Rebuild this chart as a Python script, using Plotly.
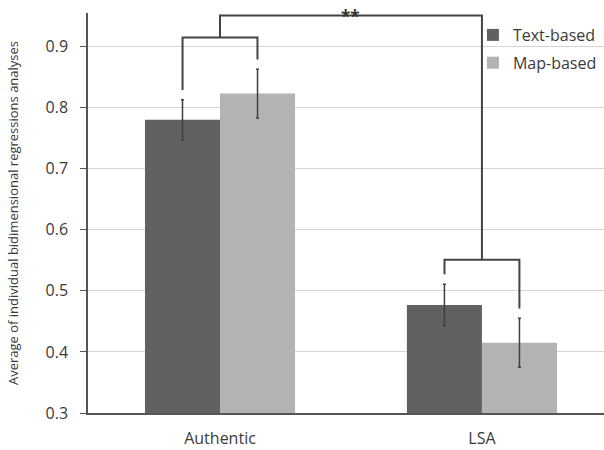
import plotly.graph_objects as go

categories = ["Authentic", "LSA"]
x_pos = [0, 1]
text_based = [0.780, 0.477]
text_err = [0.033, 0.034]
map_based = [0.823, 0.415]
map_err = [0.040, 0.040]
y_ticks = [0.3, 0.4, 0.5, 0.6, 0.7, 0.8, 0.9]
# bracket levels (data units)
group_bracket_y = [0.915, 0.551]
top_bracket_y = 0.951
leg_gap = 0.016
sig_label = "**"

FONT = "'Open Sans', sans-serif"
TXT = "#3a3a3a"
BAR_W = 0.286

fig = go.Figure()
fig.add_trace(go.Bar(
    x=x_pos, y=text_based, name="Text-based", legendgroup="a",
    marker=dict(color="#616161", line=dict(width=0)),
    error_y=dict(type="data", array=text_err, color="#404040", thickness=1.5, width=1.5),
))
fig.add_trace(go.Bar(
    x=x_pos, y=map_based, name="Map-based", legendgroup="b",
    marker=dict(color="#b3b3b3", line=dict(width=0)),
    error_y=dict(type="data", array=map_err, color="#404040", thickness=1.5, width=1.5),
))

line = dict(color="#444444", width=2)
shapes = []
for i, xc in enumerate(x_pos):
    xl = xc - BAR_W / 2
    xr = xc + BAR_W / 2
    yl = text_based[i] + text_err[i] + leg_gap
    yr = map_based[i] + map_err[i] + leg_gap
    yb = group_bracket_y[i]
    shapes.append(dict(type="path", xref="x", yref="y",
                       path=f"M {xl},{yl} L {xl},{yb} L {xr},{yb} L {xr},{yr}",
                       line=line))
# top bracket connecting the two groups
shapes.append(dict(type="path", xref="x", yref="y",
                   path=(f"M {x_pos[0]},{group_bracket_y[0]} L {x_pos[0]},{top_bracket_y} "
                         f"L {x_pos[1]},{top_bracket_y} L {x_pos[1]},{group_bracket_y[1]}"),
                   line=line))

fig.update_layout(
    width=604, height=450,
    margin=dict(l=88, r=0, t=13, b=37),
    paper_bgcolor="white", plot_bgcolor="white",
    barmode="group", bargap=0.427, bargroupgap=0,
    font=dict(family=FONT, color=TXT, size=16),
    shapes=shapes,
    showlegend=True,
    legend=dict(x=0.746, y=0.9875, xanchor="left", yanchor="top",
                font=dict(family=FONT, size=16, color=TXT),
                bgcolor="rgba(0,0,0,0)", traceorder="grouped", tracegroupgap=4,
                itemwidth=30),
    annotations=[dict(x=0.5, y=top_bracket_y, xref="x", yref="y", text="<b>" + sig_label + "</b>",
                      showarrow=False, yanchor="middle", yshift=-1,
                      font=dict(family=FONT, size=17, color="#333333"))],
)
fig.update_xaxes(
    range=[-0.504, 1.466], tickvals=x_pos, ticktext=categories,
    showline=True, linecolor="#555555", linewidth=1.5, ticks="",
    showgrid=False, zeroline=False, ticklabelstandoff=10,
    tickfont=dict(family=FONT, size=16, color=TXT),
)
fig.update_yaxes(
    range=[0.3, 0.955], tickvals=y_ticks, tickformat=".1f",
    showline=True, linecolor="#555555", linewidth=1.5,
    ticks="outside", ticklen=6, tickcolor="#555555", ticklabelstandoff=9,
    showgrid=True, gridcolor="#d4d4d4", gridwidth=1.2, zeroline=False,
    tickfont=dict(family=FONT, size=16, color=TXT),
    title=dict(text="Average of individual bidimensional regressions analyses",
               font=dict(family=FONT, size=13, color=TXT), standoff=24),
)

fig.write_html("out.html", config={"displayModeBar": False},
               post_script="document.body.style.margin='0';")
